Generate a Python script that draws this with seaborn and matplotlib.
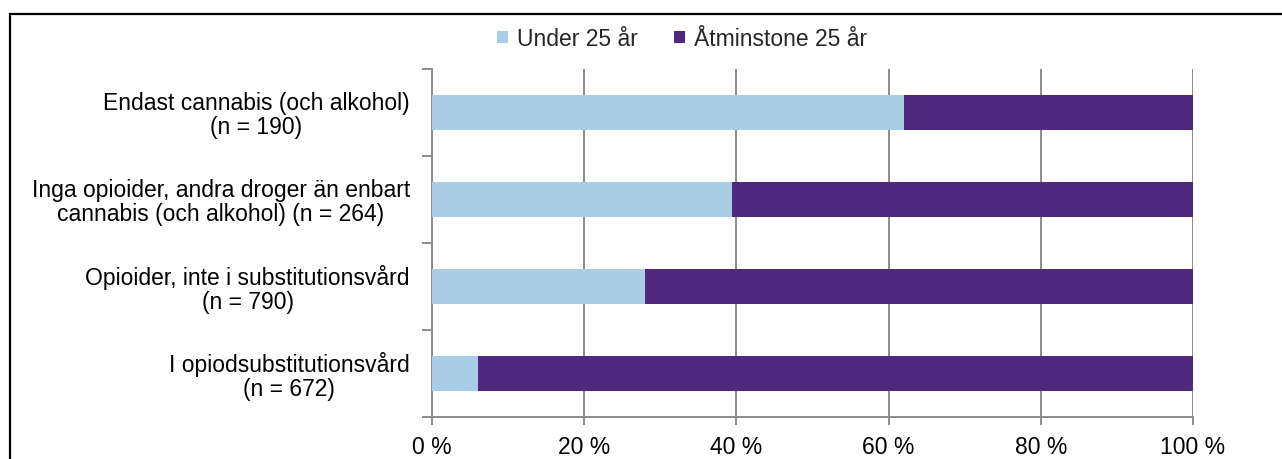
import matplotlib
matplotlib.use("Agg")
import matplotlib.pyplot as plt
from matplotlib.patches import Patch, Rectangle
from matplotlib.ticker import FixedLocator, FuncFormatter
import pandas as pd
import seaborn as sns

# Treatment groups (top to bottom) and share of clients by age group, in percent
categories = [
    "Endast cannabis (och alkohol)\n(n = 190)",
    "Inga opioider, andra droger än enbart\ncannabis (och alkohol) (n = 264)",
    "Opioider, inte i substitutionsvård\n(n = 790)",
    "I opiodsubstitutionsvård\n(n = 672)",
]
under_25 = [62.0, 39.4, 28.0, 6.0]
at_least_25 = [38.0, 60.6, 72.0, 94.0]
series_names = ["Under 25 år", "Åtminstone 25 år"]
x_ticks = [0, 20, 40, 60, 80, 100]

light_blue = "#A9CDE5"
purple = "#50297E"
grid_grey = "#8C8C8C"

sns.set_theme(style="white")
plt.rcParams["font.family"] = ["Liberation Sans", "DejaVu Sans"]

df = pd.DataFrame({
    "kategori": categories,
    "under": under_25,
    "total": [u + a for u, a in zip(under_25, at_least_25)],
})

fig = plt.figure(figsize=(12.82, 4.59), dpi=100)
ax = fig.add_axes([432 / 1282, 1 - 417 / 459, (1193 - 432) / 1282, (417 - 69) / 459])

# stacked bars: full length in purple, younger share drawn on top from zero
sns.barplot(data=df, y="kategori", x="total", color=purple, width=0.4,
            orient="h", saturation=1, ax=ax, zorder=2)
sns.barplot(data=df, y="kategori", x="under", color=light_blue, width=0.4,
            orient="h", saturation=1, ax=ax, zorder=3)
for p in ax.patches:
    p.set_linewidth(0)

ax.set_xlim(0, 100)
ax.set_ylim(len(categories) - 0.5, -0.5)
ax.set_xlabel("")
ax.set_ylabel("")

ax.xaxis.set_major_locator(FixedLocator(x_ticks))
ax.xaxis.set_major_formatter(FuncFormatter(lambda v, _: f"{v:.0f} %"))
ax.grid(axis="x", color=grid_grey, linewidth=1.4)
ax.grid(axis="y", visible=False)
ax.set_axisbelow(True)

ax.yaxis.set_minor_locator(FixedLocator([i - 0.5 for i in range(len(categories) + 1)]))
ax.tick_params(axis="y", which="major", length=0, pad=16, labelsize=16.5,
               colors="black")
ax.tick_params(axis="y", which="minor", left=True, length=7, width=1.4,
               color=grid_grey, direction="out")
ax.tick_params(axis="x", which="major", bottom=True, length=6, width=1.4,
               color=grid_grey, direction="out", pad=8, labelsize=16.5,
               labelcolor="black")
for lab in ax.get_yticklabels():
    lab.set_multialignment("center")
    lab.set_linespacing(1.05)

for side in ["top", "right"]:
    ax.spines[side].set_visible(False)
for side in ["left", "bottom"]:
    ax.spines[side].set_color(grid_grey)
    ax.spines[side].set_linewidth(1.4)

handles = [Patch(facecolor=light_blue, edgecolor="none"),
           Patch(facecolor=purple, edgecolor="none")]
fig.legend(handles, series_names, loc="center", ncol=2, frameon=False,
           bbox_to_anchor=(682 / 1282, 1 - 39 / 459), fontsize=16.5,
           handlelength=0.45, handleheight=0.45, handletextpad=0.4,
           columnspacing=1.6)

# outer chart frame
fig.patches.append(Rectangle((9.5 / 1282, -0.2), 1.2, 1.2 - 14 / 459,
                             transform=fig.transFigure, fill=False,
                             edgecolor="black", linewidth=1.6, clip_on=False))

fig.savefig("out.png", dpi=100)
